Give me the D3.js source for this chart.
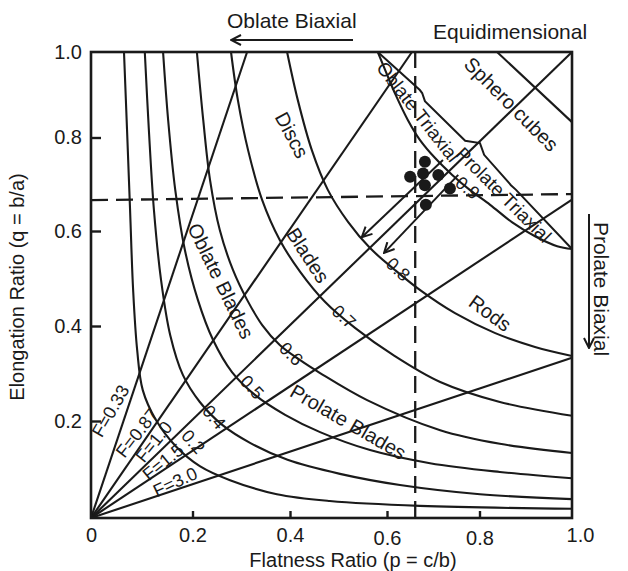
<!DOCTYPE html>
<html><head><meta charset="utf-8">
<script src="https://cdn.jsdelivr.net/npm/d3@7"></script>
<style>
body{margin:0;background:#fff;}
svg{display:block;font-family:"Liberation Sans",Arial,Helvetica,sans-serif;}
</style></head><body>
<svg id="chart" width="628" height="571"></svg>
<script>
// ---------- data ----------
const pTicks = [0, 0.2, 0.4, 0.6, 0.8, 1.0];
const pTickLabels = ["0", "0.2", "0.4", "0.6", "0.8", "1.0"];
const qTicks = [0.2, 0.4, 0.6, 0.8, 1.0];
const qTickLabels = ["0.2", "0.4", "0.6", "0.8", "1.0"];

// radial F lines from origin: end points (p, q)
const fNames = ["F=0.33", "F=0.87", "F=1.0", "F=1.5", "F=3.0"];
const fEndP = [0.312, 0.654, 1.0, 1.0, 1.0];
const fEndQ = [1.0, 1.0, 1.0, 0.667, 0.333];

// iso-lines (p, q)
const isoNames = ["0.2", "0.4", "0.5", "0.6", "0.7", "0.8", "0.9"];
const iso02 = [[0.065,1],[0.071,0.818],[0.077,0.645],[0.083,0.476],[0.091,0.349],[0.102,0.265],[0.128,0.202],[0.167,0.148],[0.215,0.107],[0.277,0.078],[0.373,0.049],[0.482,0.035],[0.671,0.025],[1.0,0.019]];
const iso04 = [[0.106,1],[0.114,0.818],[0.124,0.645],[0.138,0.497],[0.156,0.381],[0.181,0.297],[0.215,0.240],[0.261,0.192],[0.318,0.155],[0.395,0.120],[0.503,0.091],[0.628,0.068],[0.801,0.049],[1.0,0.039]];
const iso05 = [[0.142,1],[0.152,0.841],[0.166,0.688],[0.185,0.560],[0.211,0.455],[0.242,0.371],[0.281,0.303],[0.328,0.255],[0.390,0.213],[0.462,0.177],[0.565,0.140],[0.693,0.113],[0.844,0.095],[1.0,0.082]];
const iso06 = [[0.209,1],[0.222,0.841],[0.236,0.709],[0.256,0.602],[0.283,0.518],[0.312,0.455],[0.343,0.402],[0.379,0.360],[0.421,0.328],[0.462,0.301],[0.559,0.244],[0.715,0.181],[0.844,0.153],[1.0,0.134]];
const iso07 = [[0.279,1],[0.293,0.888],[0.314,0.773],[0.343,0.666],[0.379,0.581],[0.421,0.514],[0.472,0.451],[0.534,0.396],[0.613,0.339],[0.715,0.282],[0.844,0.240],[1.0,0.211]];
const iso08 = [[0.394,1],[0.416,0.888],[0.445,0.773],[0.478,0.688],[0.520,0.619],[0.565,0.564],[0.617,0.518],[0.671,0.476],[0.747,0.427],[0.834,0.385],[0.920,0.356],[1.0,0.337]];
const iso09 = [[0.581,1],[0.598,0.953],[0.619,0.899],[0.645,0.841],[0.671,0.795],[0.704,0.756],[0.741,0.720],[0.779,0.688],[0.823,0.656],[0.870,0.619],[0.920,0.589],[0.968,0.568],[1.0,0.562]];

// triaxial band upper boundary (stepped)
const bandEdge = [[0.581,1.0],[0.671,0.911],[0.676,0.904],[0.682,0.885],[0.769,0.793],[0.801,0.788],[0.810,0.763],[0.868,0.698],[0.879,0.688],[1.0,0.562]];
// sphero-cubes boundary
const cubeEdge = [[0.838,1.0],[1.0,0.836]];
// dashed reference lines
const vDash = [[0.661,0],[0.661,1.0]];
const hDash = [[0,0.666],[1.0,0.679]];
// sample points
const dotP = [0.682, 0.650, 0.678, 0.711, 0.682, 0.736, 0.684];
const dotQ = [0.748, 0.716, 0.723, 0.720, 0.698, 0.691, 0.656];
// arrows from sample cluster
const arrowFrom = [[0.721,0.752],[0.754,0.720]];
const arrowTo = [[0.548,0.587],[0.594,0.554]];

// ---------- layout (annotation placement in data units) ----------
const fLabelPos = [[0.039,0.221,-60],[0.091,0.175,-52],[0.124,0.157,-51],[0.142,0.115,-39],[0.166,0.074,-25]];
const isoLabelPos = [[0.201,0.157,48],[0.244,0.208,50],[0.322,0.271,47],[0.402,0.341,45],[0.511,0.419,43],[0.624,0.519,43],[0.774,0.692,38]];
const regions = [
  {t:"Discs", p:0.404, q:0.806, a:62},
  {t:"Blades", p:0.437, q:0.549, a:57},
  {t:"Oblate Blades", p:0.258, q:0.495, a:64},
  {t:"Prolate Blades", p:0.520, q:0.198, a:30},
  {t:"Rods", p:0.823, q:0.427, a:36},
  {t:"Sphero cubes", p:0.869, q:0.878, a:45},
  {t:"Oblate Triaxial", p:0.667, q:0.860, a:52, s:19},
  {t:"Prolate Triaxial", p:0.852, q:0.677, a:45, s:19}
];

// ---------- drawing ----------
const svg = d3.select("#chart");
const x = d3.scaleLinear().domain(pTicks).range([91, 192.5, 290, 387, 479.5, 572]);
const y = d3.scaleLinear().domain([0, 0.2, 0.4, 0.6, 0.8, 1.0]).range([518, 421, 326, 231, 137.5, 52]);
const ink = "#1a1a1a";

const defs = svg.append("defs");
defs.append("marker").attr("id","arr").attr("viewBox","0 0 12 12").attr("refX",11).attr("refY",6)
  .attr("markerWidth",12).attr("markerHeight",12).attr("markerUnits","userSpaceOnUse").attr("orient","auto")
  .append("path").attr("d","M1,1 L11,6 L1,11").attr("fill","none").attr("stroke",ink).attr("stroke-width",2);

const line = d3.line().x(d => x(d[0])).y(d => y(d[1]));
const smooth = d3.line().x(d => x(d[0])).y(d => y(d[1])).curve(d3.curveCatmullRom.alpha(0.5));

const g = svg.append("g");
[iso02, iso04, iso05, iso06, iso07, iso08, iso09].forEach(c => {
  g.append("path").attr("d", smooth(c)).attr("fill","none").attr("stroke",ink).attr("stroke-width",2.1);
});
fEndP.forEach((p,i) => {
  g.append("path").attr("d", line([[0,0],[p,fEndQ[i]]])).attr("fill","none").attr("stroke",ink).attr("stroke-width",2.1);
});
g.append("path").attr("d", line(bandEdge)).attr("fill","none").attr("stroke",ink).attr("stroke-width",2);
g.append("path").attr("d", line(cubeEdge)).attr("fill","none").attr("stroke",ink).attr("stroke-width",2.1);
[vDash, hDash].forEach(dl => {
  g.append("path").attr("d", line(dl)).attr("fill","none").attr("stroke",ink).attr("stroke-width",2.3).attr("stroke-dasharray","17,8");
});
arrowFrom.forEach((f,i) => {
  g.append("path").attr("d", line([f, arrowTo[i]])).attr("fill","none").attr("stroke",ink).attr("stroke-width",2).attr("marker-end","url(#arr)");
});
dotP.forEach((p,i) => {
  g.append("circle").attr("cx", x(p)).attr("cy", y(dotQ[i])).attr("r", 6).attr("fill", ink);
});

// frame
svg.append("rect").attr("x", x(0)).attr("y", y(1)).attr("width", x(1)-x(0)).attr("height", y(0)-y(1))
  .attr("fill","none").attr("stroke",ink).attr("stroke-width",2.6);

// axes
const ax = svg.append("g").attr("transform", `translate(0,${y(0)})`)
  .call(d3.axisBottom(x).tickValues(pTicks).tickFormat((d,i) => pTickLabels[i]).tickSize(-7).tickPadding(10));
const ay = svg.append("g").attr("transform", `translate(${x(0)},0)`)
  .call(d3.axisLeft(y).tickValues(qTicks).tickFormat((d,i) => qTickLabels[i]).tickSize(-10).tickPadding(9));
[ax, ay].forEach(a => {
  a.select(".domain").remove();
  a.selectAll(".tick line").attr("stroke", ink).attr("stroke-width", 2.4);
  a.selectAll(".tick text").attr("fill", ink).style("font-size","20px").style("font-family","'Liberation Sans',Arial,sans-serif");
});
ax.selectAll(".tick").filter(d => d === 0 || d === 1).select("line").remove();
ax.selectAll(".tick").filter(d => d === 0.6 || d === 0.8).select("text").attr("dy","0.85em");
ax.selectAll(".tick").filter(d => d === 1).select("text").attr("dx","8");
ay.selectAll(".tick").filter(d => d === 1).select("line").remove();

// axis titles
svg.append("text").attr("x", 353).attr("y", 567).attr("text-anchor","middle").attr("fill",ink)
  .style("font-size","20px").text("Flatness Ratio (p = c/b)");
svg.append("text").attr("transform","translate(24,287) rotate(-90)").attr("text-anchor","middle").attr("fill",ink)
  .style("font-size","20px").text("Elongation Ratio (q = b/a)");

fNames.forEach((t,i) => {
  const [p,q,a] = fLabelPos[i];
  svg.append("text").attr("transform", `translate(${x(p)},${y(q)}) rotate(${a})`)
    .attr("text-anchor","middle").attr("dominant-baseline","central").attr("fill",ink)
    .style("font-size","18px").text(t);
});
isoNames.forEach((t,i) => {
  const [p,q,a] = isoLabelPos[i];
  svg.append("text").attr("transform", `translate(${x(p)},${y(q)}) rotate(${a})`)
    .attr("text-anchor","middle").attr("dominant-baseline","central").attr("fill",ink)
    .style("font-size","18px").text(t);
});
regions.forEach(r => {
  svg.append("text").attr("transform", `translate(${x(r.p)},${y(r.q)}) rotate(${r.a})`)
    .attr("text-anchor","middle").attr("dominant-baseline","central").attr("fill",ink)
    .style("font-size", (r.s || 20) + "px").text(r.t);
});

// outside annotations
svg.append("text").attr("x", 227).attr("y", 28).attr("fill",ink).style("font-size","21px").text("Oblate Biaxial");
svg.append("line").attr("x1", 353).attr("y1", 40).attr("x2", 231).attr("y2", 40)
  .attr("stroke",ink).attr("stroke-width",2).attr("marker-end","url(#arr)");
svg.append("text").attr("x", 433).attr("y", 39).attr("fill",ink).style("font-size","21px").text("Equidimensional");
svg.append("line").attr("x1", 589).attr("y1", 214).attr("x2", 589).attr("y2", 348)
  .attr("stroke",ink).attr("stroke-width",2).attr("marker-end","url(#arr)");
svg.append("text").attr("transform","translate(601,289) rotate(90)").attr("text-anchor","middle")
  .attr("dominant-baseline","central").attr("fill",ink).style("font-size","21px").text("Prolate Biaxial");
</script>
</body></html>
